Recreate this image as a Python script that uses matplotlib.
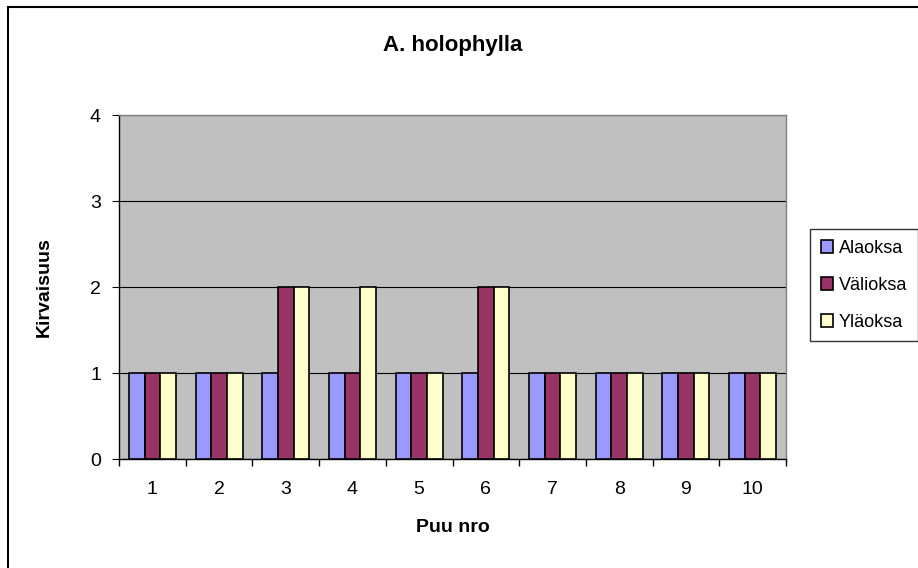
import matplotlib
matplotlib.use("Agg")
import matplotlib.pyplot as plt
from matplotlib.patches import Rectangle
import numpy as np

categories = ["1", "2", "3", "4", "5", "6", "7", "8", "9", "10"]
alaoksa = [1, 1, 1, 1, 1, 1, 1, 1, 1, 1]
valioksa = [1, 1, 2, 1, 1, 2, 1, 1, 1, 1]
ylaoksa = [1, 1, 2, 2, 1, 2, 1, 1, 1, 1]
series_names = ["Alaoksa", "Välioksa", "Yläoksa"]
colors = ["#9999FF", "#993366", "#FFFFCC"]

plt.rcParams['font.family'] = ['Liberation Sans', 'DejaVu Sans']

W, H = 918, 568
fig = plt.figure(figsize=(W/100, H/100), dpi=100)

# outer chart border
fig.patches.append(Rectangle((8/W, 0 - 0.01), 1.02, 1 - 7/H + 0.01, transform=fig.transFigure,
                             fill=False, edgecolor="black", linewidth=1.5))

ax = fig.add_axes([119/W, 1 - 459/H, (786-119)/W, (459-115)/H])
ax.set_facecolor("#C0C0C0")

x = np.arange(len(categories))
bw = 0.235
for i, (vals, name, c) in enumerate(zip([alaoksa, valioksa, ylaoksa], series_names, colors)):
    ax.bar(x + (i - 1) * bw, vals, width=bw, color=c, edgecolor="black", linewidth=1.2,
           label=name, zorder=3)

ax.set_xlim(-0.5, len(categories) - 0.5)
ax.set_ylim(0, 4)
ax.set_yticks([0, 1, 2, 3, 4])
ax.set_xticks(x)
ax.set_xticklabels(categories)
ax.set_xticks(np.arange(len(categories) + 1) - 0.5, minor=True)
ax.tick_params(axis='x', which='major', length=0, pad=16, labelsize=14)
ax.tick_params(axis='x', which='minor', length=5, direction='out', width=1)
ax.tick_params(axis='y', length=5, direction='out', labelsize=14, pad=8)
ax.yaxis.grid(True, color="black", linewidth=0.8, zorder=1)
ax.set_axisbelow(True)

for side in ["top", "right"]:
    ax.spines[side].set_color("#808080")
    ax.spines[side].set_linewidth(1)
for side in ["left", "bottom"]:
    ax.spines[side].set_color("black")
    ax.spines[side].set_linewidth(1)

ax.set_xlabel("Puu nro", fontsize=14, fontweight="bold", labelpad=15)
ax.set_ylabel("Kirvaisuus", fontsize=14, fontweight="bold", labelpad=27)
fig.text((119+786)/2/W, 1 - 46/H, "A. holophylla", ha="center", va="center",
         fontsize=16, fontweight="bold")

leg = fig.legend(loc="upper left", bbox_to_anchor=(810/W, 1 - 229/H), frameon=True,
                 fontsize=13, handlelength=0.7, handleheight=0.7, handletextpad=0.3,
                 borderpad=0.6, labelspacing=1.1, borderaxespad=0, fancybox=False)
leg.get_frame().set_edgecolor("black")
leg.get_frame().set_linewidth(1)

fig.savefig("out.png", dpi=100)
